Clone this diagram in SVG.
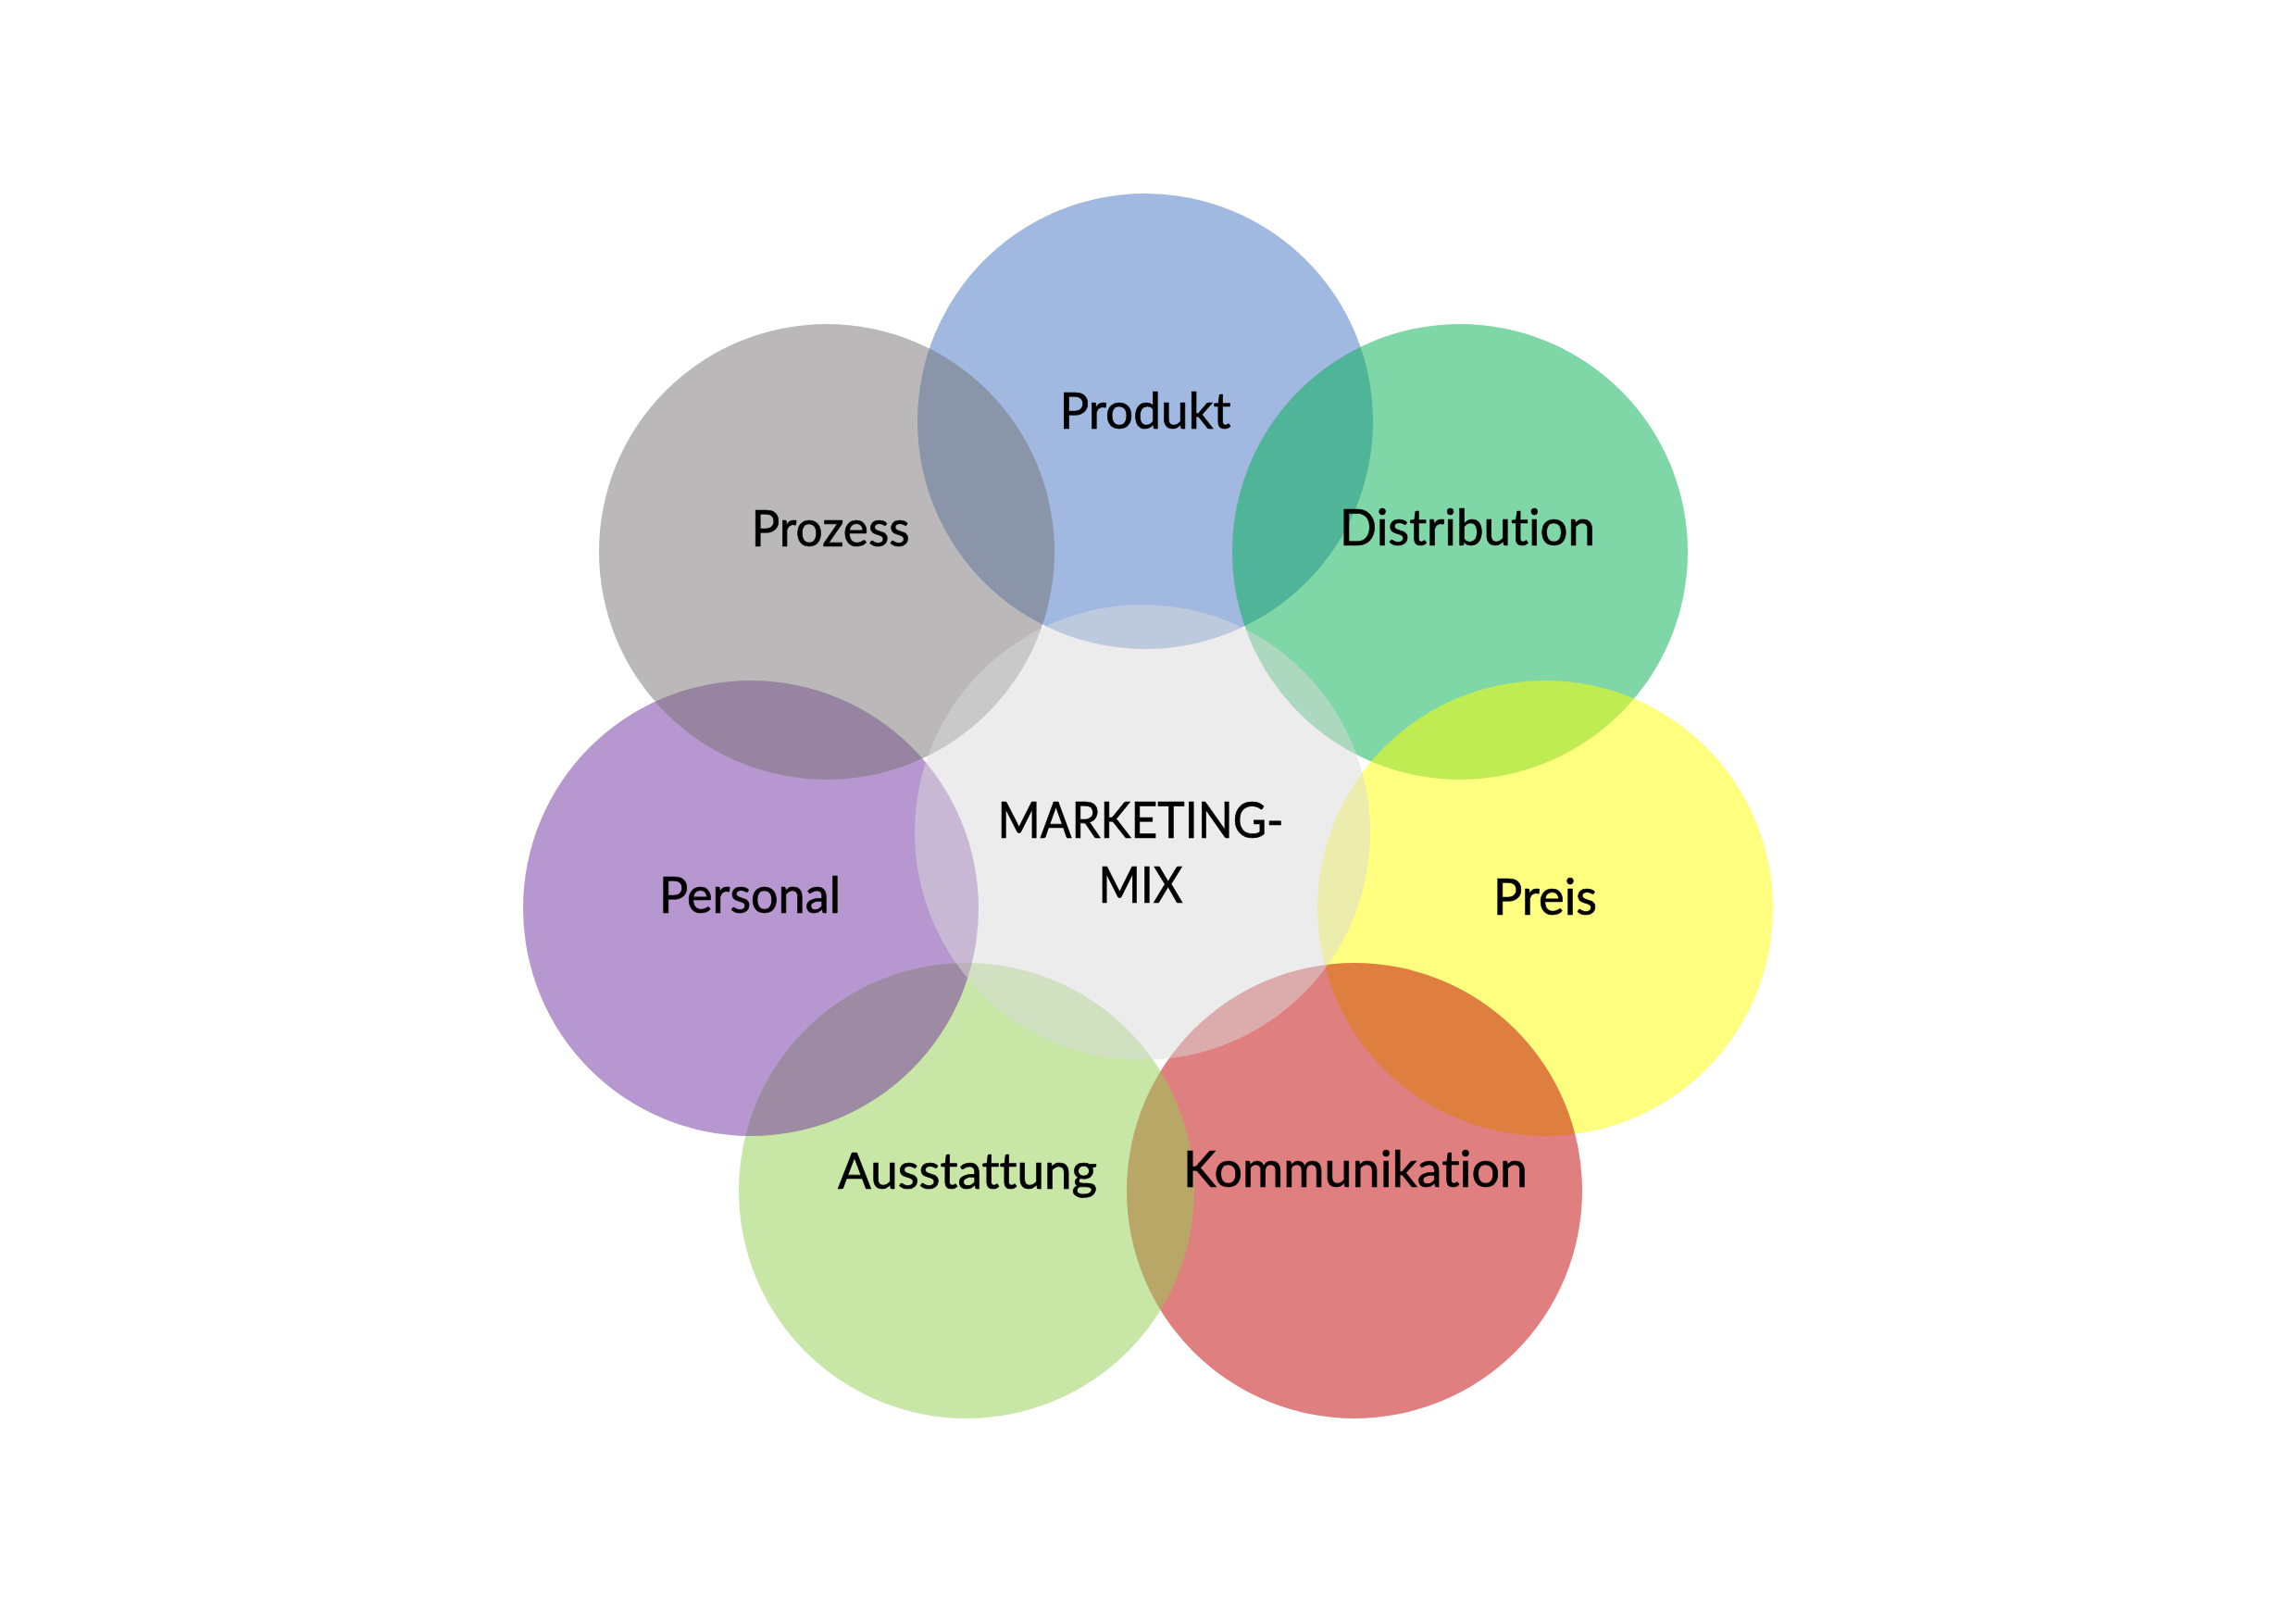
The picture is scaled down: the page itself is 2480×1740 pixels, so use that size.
<svg xmlns="http://www.w3.org/2000/svg" width="2480" height="1740" viewBox="0 0 2480 1740">
<style>
.c{fill-opacity:0.5}
.t{font-family:Lato,"Open Sans","Liberation Sans",sans-serif;font-size:55px;fill:#000;stroke:#000;stroke-width:0.7px;text-anchor:middle;font-variant-ligatures:none;font-feature-settings:"liga" 0,"dlig" 0}
</style>
<rect width="2480" height="1740" fill="#ffffff"/>
<g id="connectors"></g>
<g id="produkt"><circle class="c" cx="1237" cy="455" r="246" fill="#4472C4"/></g>
<g id="distribution"><circle class="c" cx="1577" cy="596" r="246" fill="#00B050"/></g>
<g id="preis"><circle class="c" cx="1669" cy="981" r="246" fill="#FFFF00"/></g>
<g id="kommunikation"><circle class="c" cx="1463" cy="1286" r="246" fill="#C00000"/></g>
<g id="ausstattung"><circle class="c" cx="1044" cy="1286" r="246" fill="#92D050"/></g>
<g id="personal"><circle class="c" cx="811" cy="981" r="246" fill="#7030A0"/></g>
<g id="prozess"><circle class="c" cx="893" cy="596" r="246" fill="#767171"/></g>
<g id="marketing-mix"><circle class="c" cx="1234" cy="899" r="246" fill="#D9D9D9"/></g>
<g id="labels">
<text class="t" x="1237" y="463" textLength="185" lengthAdjust="spacingAndGlyphs">Produkt</text>
<text class="t" x="897" y="590" textLength="171" lengthAdjust="spacingAndGlyphs">Prozess</text>
<text class="t" x="1585" y="589" textLength="276" lengthAdjust="spacingAndGlyphs">Distribution</text>
<text class="t" x="1669" y="988" textLength="112" lengthAdjust="spacingAndGlyphs">Preis</text>
<text class="t" x="810" y="986" textLength="196" lengthAdjust="spacingAndGlyphs">Personal</text>
<text class="t" x="1045" y="1284" textLength="280" lengthAdjust="spacingAndGlyphs">Ausstattung</text>
<text class="t" x="1464" y="1282" textLength="372" lengthAdjust="spacingAndGlyphs">Kommunikation</text>
<text class="t" x="1232" y="905" textLength="309" lengthAdjust="spacingAndGlyphs">MARKETING-</text>
<text class="t" x="1232" y="975" textLength="91" lengthAdjust="spacingAndGlyphs">MIX</text>
</g>
</svg>
